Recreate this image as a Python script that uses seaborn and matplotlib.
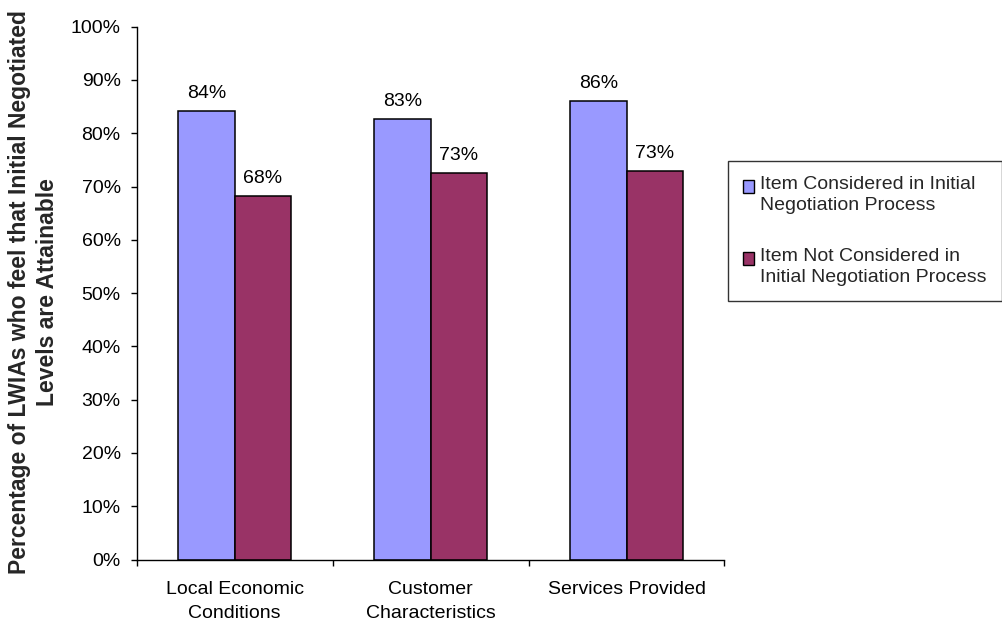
import matplotlib
matplotlib.use("Agg")
import matplotlib.pyplot as plt
from matplotlib.ticker import FuncFormatter, FixedLocator
from matplotlib.legend_handler import HandlerPatch
from matplotlib.patches import Rectangle
import pandas as pd
import seaborn as sns

# Chart data
categories = ["Local Economic\nConditions", "Customer\nCharacteristics", "Services Provided"]
series_names = ["Item Considered in Initial\nNegotiation Process",
                "Item Not Considered in\nInitial Negotiation Process"]
considered = [84.1, 82.6, 86.0]
not_considered = [68.2, 72.6, 72.9]
y_label = "Percentage of LWIAs who feel that Initial Negotiated\nLevels are Attainable"

df = pd.DataFrame({
    "category": categories * 2,
    "series": [series_names[0]] * 3 + [series_names[1]] * 3,
    "value": considered + not_considered,
})

sns.set_theme(style="ticks")
plt.rcParams["font.family"] = ["Liberation Sans", "DejaVu Sans"]
plt.rcParams["font.size"] = 14

W, H = 1003, 625
fig = plt.figure(figsize=(W / 100, H / 100), dpi=100)
ax = fig.add_axes([136.7 / W, 1 - 559.5 / H, (724.5 - 136.7) / W, (559.5 - 26.7) / H])

palette = {series_names[0]: "#9999FF", series_names[1]: "#993366"}
sns.barplot(data=df, x="category", y="value", hue="series", order=categories,
            hue_order=series_names, palette=palette, width=0.574, gap=0,
            edgecolor="black", linewidth=1.1, saturation=1, ax=ax, errorbar=None)

# value labels above bars
for cont, vals in zip(ax.containers, [considered, not_considered]):
    ax.bar_label(cont, labels=[f"{round(v)}%" for v in vals], padding=6.5,
                 fontsize=14, color="black")

ax.set_ylim(0, 100)
ax.set_xlim(-0.5, 2.5)
ax.set_yticks(range(0, 101, 10))
ax.yaxis.set_major_formatter(FuncFormatter(lambda v, p: f"{v:.0f}%"))
ax.tick_params(axis="y", direction="out", length=4.5, width=1, color="black",
               labelsize=14, pad=7, labelcolor="black")
ax.tick_params(axis="x", which="major", length=0, pad=15.5, labelsize=14, labelcolor="black")
ax.xaxis.set_minor_locator(FixedLocator([-0.5, 0.5, 1.5, 2.5]))
ax.tick_params(axis="x", which="minor", direction="out", length=4.5, width=1, color="black")
for lab in ax.get_xticklabels():
    lab.set_linespacing(1.55)
ax.set_xlabel("")
ax.set_ylabel("")

for side in ["top", "right"]:
    ax.spines[side].set_visible(False)
for side in ["left", "bottom"]:
    ax.spines[side].set_color("black")
    ax.spines[side].set_linewidth(1)

fig.text(33.5 / W, 1 - 292.5 / H, y_label, rotation=90, ha="center", va="center",
         fontsize=16.5, fontweight="bold", linespacing=1.25)


def first_line_square(legend, orig_handle, xdescent, ydescent, width, height, fontsize):
    # square swatch lifted to sit beside the first line of a two-line label
    return Rectangle((-xdescent, -ydescent + 0.42 * fontsize), width, height)


# legend at the right of the plot
handles, labels = ax.get_legend_handles_labels()
ax.get_legend().remove()
leg = fig.legend(handles, labels, loc="upper left",
                 bbox_to_anchor=(728 / W, 1 - 161 / H), borderaxespad=0,
                 frameon=True, fancybox=False, framealpha=1, edgecolor="#333333",
                 fontsize=14, handlelength=0.6, handleheight=0.6,
                 handletextpad=0.3, borderpad=0.76, labelspacing=1.75,
                 handler_map={h: HandlerPatch(patch_func=first_line_square) for h in handles})
leg.get_frame().set_linewidth(1)
for t in leg.get_texts():
    t.set_linespacing(1.32)
for h in leg.legend_handles:
    h.set_edgecolor("black")
    h.set_linewidth(1)

fig.savefig("out.png", dpi=100)
